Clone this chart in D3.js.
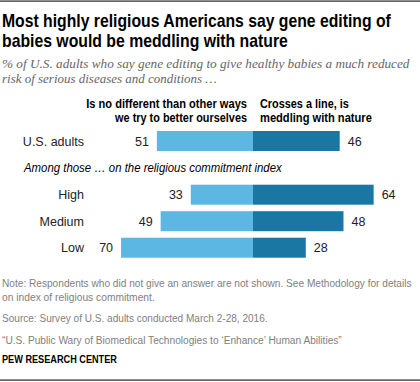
<!DOCTYPE html>
<html><head><meta charset="utf-8">
<script src="https://cdn.jsdelivr.net/npm/d3@7"></script>
<style>body{margin:0;background:#fff}svg{display:block}</style>
</head><body>
<script>
const categories = ["U.S. adults", "High", "Medium", "Low"];
const noDifferent = [51, 33, 49, 70];
const crossesLine = [46, 64, 48, 28];
const seriesNames = ["Is no different than other ways|we try to better ourselves", "Crosses a line, is|meddling with nature"];

const W = 420, H = 382;
const svg = d3.select("body").append("svg").attr("width", W).attr("height", H);
const sans = "'Liberation Sans', Arial, sans-serif";
const serif = "'Liberation Serif', Georgia, serif";

function txt(x, y, s, o) {
  o = o || {};
  const t = svg.append("text").attr("x", 0).attr("y", 0).text(s)
    .attr("font-family", o.family || sans)
    .attr("font-size", o.size || 12)
    .attr("fill", o.fill || "#000")
    .attr("text-anchor", o.anchor || "start");
  if (o.weight) t.attr("font-weight", o.weight);
  if (o.style) t.attr("font-style", o.style);
  let k = 1;
  if (o.len) {
    const w = t.node().getComputedTextLength();
    if (w > 0) k = o.len / w;
  }
  t.attr("transform", `translate(${x},${y}) scale(${k},1)`);
  return t;
}

// rules
svg.append("rect").attr("x", 0).attr("y", 0.5).attr("width", W).attr("height", 1.2).attr("fill", "#222");
svg.append("rect").attr("x", 0).attr("y", 379.5).attr("width", W).attr("height", 1.2).attr("fill", "#222");

// title
txt(2, 27, "Most highly religious Americans say gene editing of", {size: 17.5, weight: "bold", len: 389});
txt(2, 47, "babies would be meddling with nature", {size: 17.5, weight: "bold", len: 286});
// subtitle
txt(2, 68, "% of U.S. adults who say gene editing to give healthy babies a much reduced", {size: 13.5, family: serif, style: "italic", fill: "#666", len: 408});
txt(2, 83, "risk of serious diseases and conditions \u2026", {size: 13.5, family: serif, style: "italic", fill: "#666", len: 215});

// scales
const center = 253;
const x = d3.scaleLinear().domain([0, 100]).range([0, 188.5]);
const rowY = d3.scaleOrdinal().domain(categories).range([131, 184.7, 211.2, 237.7]);
const barH = 20;

// column headers
const h1 = seriesNames[0].split("|"), h2 = seriesNames[1].split("|");
txt(247, 108, h1[0], {size: 12, weight: "bold", anchor: "end", len: 161});
txt(247, 122, h1[1], {size: 12, weight: "bold", anchor: "end", len: 132});
txt(260, 108, h2[0], {size: 12, weight: "bold", len: 89});
txt(260, 122, h2[1], {size: 12, weight: "bold", len: 112});

// sub header
txt(24, 172, "Among those \u2026 on the religious commitment index", {size: 12.5, style: "italic", len: 258});

const rows = categories.map((c, i) => ({c, a: noDifferent[i], b: crossesLine[i]}));
const g = svg.append("g");
g.selectAll("rect.a").data(rows).join("rect").attr("class", "a")
  .attr("x", d => center - x(d.a)).attr("y", d => rowY(d.c))
  .attr("width", d => x(d.a)).attr("height", barH).attr("fill", "#5cb8e2");
g.selectAll("rect.b").data(rows).join("rect").attr("class", "b")
  .attr("x", center).attr("y", d => rowY(d.c))
  .attr("width", d => x(d.b)).attr("height", barH).attr("fill", "#1a77a3");

rows.forEach(d => {
  const by = rowY(d.c) + barH / 2 + 4.5;
  txt(84, by, d.c, {size: 12.5, anchor: "end", fill: "#222"});
  txt(center - x(d.a) - 8, by, String(d.a), {size: 12.5, anchor: "end", fill: "#222"});
  txt(center + x(d.b) + 8, by, String(d.b), {size: 12.5, fill: "#222"});
});

// notes
const grey = "#808080";
txt(2, 287, "Note: Respondents who did not give an answer are not shown. See Methodology for details", {size: 11, fill: grey, len: 410});
txt(2, 301, "on index of religious commitment.", {size: 11, fill: grey, len: 153});
txt(2, 322, "Source: Survey of U.S. adults conducted March 2-28, 2016.", {size: 11, fill: grey, len: 266});
txt(2, 344, "\u201cU.S. Public Wary of Biomedical Technologies to \u2018Enhance\u2019 Human Abilities\u201d", {size: 11, fill: grey, len: 340});
txt(2, 363, "PEW RESEARCH CENTER", {size: 10.5, weight: "bold", len: 115});
</script>
</body></html>
